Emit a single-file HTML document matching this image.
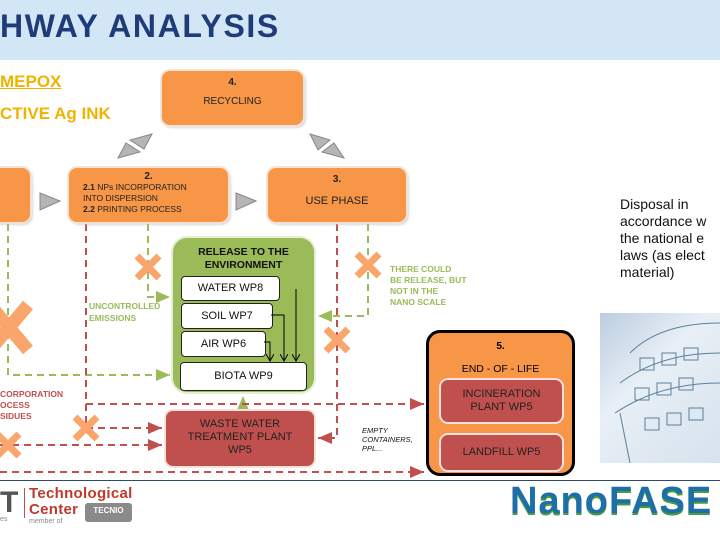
<!DOCTYPE html>
<html><head><meta charset="utf-8"><style>
body{margin:0;width:720px;height:540px;overflow:hidden;background:#fff;font-family:"Liberation Sans",sans-serif;position:relative}
.a{position:absolute}
.ob{position:absolute;background:#f79646;border-radius:8px;box-shadow:0 0 0 2px #f3e3d6,2px 2px 3px #bbb;color:#222;font-size:10px;text-align:center}
.wb{position:absolute;background:#fff;border:1px solid #222;border-radius:4px;font-size:11px;text-align:center;color:#111}
.rb{position:absolute;background:#c0504d;border-radius:7px;box-shadow:0 0 0 2px #f3e0df;color:#222;font-size:11px;text-align:center}
</style></head><body>
<div class="a" style="left:0;top:0;width:720px;height:60px;background:#d3e6f5"></div>
<div class="a" style="left:0;top:8px;font-size:32px;font-weight:bold;color:#1f3b78;letter-spacing:1.6px">HWAY ANALYSIS</div>
<div class="a" style="left:0;top:72px;font-size:17px;font-weight:bold;color:#f0b400;text-decoration:underline">MEPOX</div>
<div class="a" style="left:0;top:104px;font-size:17px;font-weight:bold;color:#f0b400">CTIVE Ag INK</div>

<svg class="a" style="left:0;top:0" width="720" height="540">
<defs>
<marker id="ar" markerWidth="8" markerHeight="8" refX="7" refY="4" orient="auto"><path d="M0,1 L7,4 L0,7z" fill="#c0504d"/></marker>
<marker id="ag" markerWidth="8" markerHeight="8" refX="7" refY="4" orient="auto"><path d="M0,1 L7,4 L0,7z" fill="#9bbb59"/></marker>
<marker id="ak" markerWidth="8" markerHeight="8" refX="7" refY="4" orient="auto"><path d="M0,0 L7,4 L0,8" fill="none" stroke="#000"/></marker>
<g id="x"><path d="M-11,-11 L11,11 M11,-11 L-11,11" stroke="#f9a56b" stroke-width="7"/></g>
</defs>
<g fill="none" stroke-dasharray="7,5" stroke-width="2">
<path d="M8,224 V375 H170" stroke="#9bbb59" marker-end="url(#ag)"/>
<path d="M148,224 V297 H170" stroke="#9bbb59" marker-end="url(#ag)"/>
<path d="M368,224 V316 H318" stroke="#9bbb59" marker-end="url(#ag)"/>
<path d="M243,408 V396" stroke="#9bbb59" marker-end="url(#ag)"/>
<path d="M86,224 V428 H162" stroke="#c0504d" marker-end="url(#ar)"/>
<path d="M86,404 H424" stroke="#c0504d" marker-end="url(#ar)"/>
<path d="M0,445 H162" stroke="#c0504d" marker-end="url(#ar)"/>
<path d="M0,472 H424" stroke="#c0504d" marker-end="url(#ar)"/>
<path d="M337,224 V438 H318" stroke="#c0504d" marker-end="url(#ar)"/>
</g>
<use href="#x" x="148" y="267"/><use href="#x" x="368" y="265"/><use href="#x" x="337" y="340"/><use href="#x" x="86" y="428"/><use href="#x" x="8" y="445"/>
<path d="M-10,305 L28,350 M28,305 L-10,350" stroke="#f9a56b" stroke-width="13"/>
<g fill="#b5b5b5" stroke="#888" stroke-width="1">
<path d="M40,193 L60,201 L40,210z"/><path d="M236,193 L256,201 L236,210z"/>
<path d="M118,158 L140,152 L126,143z"/><path d="M152,134 L130,140 L144,149z"/>
<path d="M310,134 L330,140 L318,150z"/><path d="M344,158 L322,152 L334,143z"/>
</g>
</svg>

<div class="ob" style="left:162px;top:71px;width:141px;height:54px"><div style="margin-top:6px;font-weight:bold">4.</div><div style="margin-top:8px">RECYCLING</div></div>
<div class="ob" style="left:-10px;top:168px;width:40px;height:54px"></div>
<div class="ob" style="left:69px;top:168px;width:159px;height:54px;text-align:left;font-size:8.5px;line-height:11px"><div style="text-align:center;font-weight:bold;margin-top:3px;font-size:10px">2.</div><div style="padding-left:14px"><b>2.1</b> NPs INCORPORATION<br>INTO DISPERSION<br><b>2.2</b> PRINTING PROCESS</div></div>
<div class="ob" style="left:268px;top:168px;width:138px;height:54px"><div style="margin-top:6px;font-weight:bold">3.</div><div style="margin-top:10px;font-size:11px">USE PHASE</div></div>

<div class="a" style="left:173px;top:238px;width:141px;height:154px;background:#9bbb59;border-radius:14px;box-shadow:0 0 0 2px #e5eed6"></div>
<div class="a" style="left:173px;top:246px;width:141px;text-align:center;font-size:10.5px;font-weight:bold;line-height:13px;color:#111">RELEASE TO THE<br>ENVIRONMENT</div>
<div class="wb" style="left:181px;top:276px;width:97px;height:23px;line-height:23px">WATER WP8</div>
<div class="wb" style="left:181px;top:303px;width:90px;height:24px;line-height:24px">SOIL WP7</div>
<div class="wb" style="left:181px;top:331px;width:83px;height:24px;line-height:24px">AIR WP6</div>
<div class="wb" style="left:180px;top:362px;width:125px;height:27px;line-height:27px">BIOTA WP9</div>
<svg class="a" style="left:0;top:0" width="720" height="540" fill="none" stroke="#000" stroke-width="1">
<path d="M296,289 V361" marker-end="url(#ak)"/><path d="M271,315 H284 V361" marker-end="url(#ak)"/><path d="M264,342 H270 V361" marker-end="url(#ak)"/>
</svg>

<div class="rb" style="left:166px;top:411px;width:148px;height:55px;line-height:13px"><div style="margin-top:7px">WASTE WATER<br>TREATMENT PLANT<br>WP5</div></div>

<div class="a" style="left:426px;top:330px;width:143px;height:140px;background:#f79646;border:3px solid #000;border-radius:14px"></div>
<div class="a" style="left:426px;top:341px;width:149px;text-align:center;font-size:10px;font-weight:bold">5.</div>
<div class="a" style="left:426px;top:363px;width:149px;text-align:center;font-size:10.5px">END - OF - LIFE</div>
<div class="rb" style="left:441px;top:380px;width:121px;height:42px;line-height:13px"><div style="margin-top:8px">INCINERATION<br>PLANT WP5</div></div>
<div class="rb" style="left:441px;top:435px;width:121px;height:35px;line-height:35px">LANDFILL WP5</div>

<div class="a" style="left:89px;top:300px;font-size:8.5px;font-weight:bold;color:#9bbb59;line-height:12px">UNCONTROLLED<br>EMISSIONS</div>
<div class="a" style="left:390px;top:264px;font-size:8.5px;font-weight:bold;color:#9bbb59;line-height:11px">THERE COULD<br>BE RELEASE, BUT<br>NOT IN THE<br>NANO SCALE</div>
<div class="a" style="left:0;top:389px;font-size:8.5px;font-weight:bold;color:#c0504d;line-height:11px">CORPORATION<br>OCESS<br>SIDUES</div>
<div class="a" style="left:362px;top:426px;font-size:7.5px;font-style:italic;color:#111;line-height:9px">EMPTY<br>CONTAINERS,<br>PPL...</div>

<div class="a" style="left:620px;top:196px;font-size:14px;line-height:17px;color:#111;white-space:nowrap">Disposal in<br>accordance w<br>the national e<br>laws (as elect<br>material)</div>
<div class="a" style="left:600px;top:313px;width:120px;height:150px;background:linear-gradient(135deg,#bccde0,#e8eff6 40%,#d6e2ee)"></div>
<svg class="a" style="left:600px;top:313px" width="120" height="150" fill="none" stroke="#5d7f99" stroke-width="1">
<path d="M30,40 Q60,10 120,10 M20,70 Q60,40 120,40 M15,100 Q60,70 120,70 M30,150 L20,100"/>
<rect x="40" y="45" width="14" height="12"/><rect x="62" y="40" width="14" height="12"/><rect x="84" y="35" width="14" height="12"/>
<rect x="35" y="75" width="14" height="12"/><rect x="57" y="70" width="14" height="12"/><rect x="79" y="65" width="14" height="12"/>
<rect x="45" y="105" width="14" height="12"/><rect x="67" y="100" width="14" height="12"/><rect x="89" y="95" width="14" height="12"/>
</svg>

<div class="a" style="left:0;top:480px;width:720px;height:1px;background:#2c4a6e"></div>
<div class="a" style="left:0;top:486px;font-size:30px;font-weight:bold;color:#555">T</div>
<div class="a" style="left:24px;top:488px;width:1px;height:30px;background:#c0504d"></div>
<div class="a" style="left:29px;top:486px;font-size:15px;font-weight:bold;color:#c0392b;line-height:16px;letter-spacing:0.3px">Technological<br>Center</div>
<div class="a" style="left:29px;top:518px;font-size:7px;color:#888">member of</div>
<div class="a" style="left:0;top:516px;font-size:7px;color:#888">es</div>
<div class="a" style="left:85px;top:503px;width:47px;height:19px;background:#8a8a8a;border-radius:3px;color:#fff;font-size:8px;font-weight:bold;text-align:center;line-height:15px">TECNIO</div>
<div class="a" style="left:510px;top:480px;font-size:38px;font-weight:bold;color:#1d6fa8;letter-spacing:1px;text-shadow:0 2px 0 #4e9a3a">NanoFASE</div>
</body></html>
